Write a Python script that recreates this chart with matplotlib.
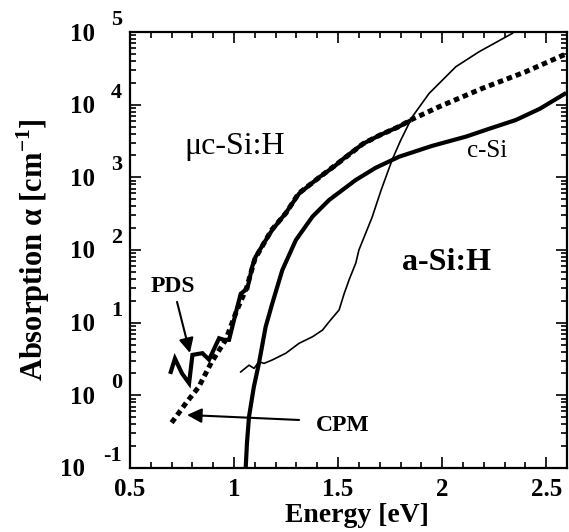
import numpy as np
import matplotlib
matplotlib.use("Agg")
import matplotlib.pyplot as plt
from matplotlib.transforms import offset_copy, blended_transform_factory
from matplotlib.ticker import MultipleLocator, NullFormatter

plt.rcParams['font.family'] = ['Liberation Serif', 'DejaVu Serif']
plt.rcParams['mathtext.fontset'] = 'custom'
plt.rcParams['mathtext.rm'] = 'Liberation Serif:bold'
plt.rcParams['mathtext.bf'] = 'Liberation Serif:bold'

# c-Si (thick solid)
csi_E = [1.056, 1.062, 1.072, 1.095, 1.12, 1.152, 1.184, 1.232, 1.297, 1.377, 1.457,
         1.585, 1.68, 1.793, 1.95, 2.114, 2.23, 2.354, 2.47, 2.596]
csi_a = [0.1, 0.22, 0.51, 1.3, 2.8, 8.8, 18.5, 53, 137, 288, 488,
         920, 1350, 1920, 2700, 3630, 4700, 6150, 8800, 14500]

# a-Si:H (thin solid)
asi_E = [1.032, 1.072, 1.096, 1.12, 1.144, 1.184, 1.249, 1.3125, 1.377, 1.425, 1.457,
         1.505, 1.529, 1.553, 1.585, 1.60, 1.663, 1.707, 1.76, 1.80, 1.857, 1.9375,
         2.066, 2.178, 2.338]
asi_a = [2.1, 2.6, 2.35, 2.9, 2.75, 3.07, 3.8, 5.2, 6.4, 7.9, 10.3,
         15, 25, 39, 66, 100, 280, 670, 1750, 3200, 6840, 14300,
         33300, 53600, 96000]

# uc-Si:H, PDS (thick wiggly)
pds_E = [0.696, 0.716, 0.75, 0.784, 0.80, 0.848, 0.88, 0.928, 0.952, 0.976, 1.008,
         1.032, 1.064, 1.088, 1.104, 1.14, 1.183, 1.249, 1.313, 1.409, 1.48, 1.537,
         1.62, 1.70, 1.793, 1.84]
pds_a = [2.1, 3.2, 2.0, 1.47, 3.6, 3.8, 3.1, 6.1, 5.8, 5.8, 13.5,
         25, 29.5, 60, 81, 120, 188, 324, 600, 1000, 1400, 1920,
         2900, 3800, 5000, 5900]

# uc-Si:H, CPM (dotted)
cpm_E = [0.70, 0.77, 0.83, 0.89, 0.96, 1.01, 1.06, 1.10, 1.18, 1.25, 1.31, 1.41,
         1.54, 1.62, 1.70, 1.793, 1.856, 1.986, 2.194, 2.402, 2.596]
cpm_a = [0.42, 0.79, 1.3, 2.8, 5.8, 14, 30, 75, 188, 324, 600, 1000,
         1920, 2900, 3800, 5000, 6300, 9380, 16800, 28400, 50000]

decades = [-1, 0, 1, 2, 3, 4, 5]
x_ticks = [0.5, 1.0, 1.5, 2.0, 2.5]
x_labels = ['0.5', '1', '1.5', '2', '2.5']

fig = plt.figure(figsize=(5.69, 5.32), dpi=100)
ax = fig.add_axes([130 / 569, 1 - 468 / 532, 437 / 569, 436 / 532])

ax.plot(csi_E, csi_a, color='black', lw=3.0, solid_capstyle='butt')
ax.plot(asi_E, asi_a, color='black', lw=1.2)
ax.plot(pds_E, pds_a, color='black', lw=3.0, solid_joinstyle='miter')
ax.plot(cpm_E, cpm_a, color='black', lw=3.6, dashes=(1.1, 0.8))

ax.set_yscale('log')
ax.set_xlim(0.5, 2.6)
ax.set_ylim(1e-1, 1e5)

ax.xaxis.set_minor_locator(MultipleLocator(0.1))
ax.set_xticks(x_ticks)
ax.set_xticklabels(x_labels, fontsize=18, fontweight='bold')
ax.set_yticks([10.0 ** d for d in decades])
ax.set_yticks([m * 10.0 ** d for d in decades[:-1] for m in range(2, 10)], minor=True)
ax.yaxis.set_major_formatter(NullFormatter())
ax.yaxis.set_minor_formatter(NullFormatter())

ax.tick_params(which='both', direction='in', top=True, right=True, width=1.2)
ax.tick_params(which='major', length=8)
ax.tick_params(which='minor', length=4)
ax.tick_params(axis='x', which='major', pad=7)
for s in ax.spines.values():
    s.set_linewidth(1.6)

# y tick labels: "10" with a raised exponent
bt = blended_transform_factory(ax.transAxes, ax.transData)
for d in decades:
    tr_exp = offset_copy(bt, fig=fig, x=-8, y=12, units='dots')
    ax.text(0, 10.0 ** d, str(d), transform=tr_exp, ha='right', va='center',
            fontsize=16, fontweight='bold', clip_on=False)
    shift = -35 if d >= 0 else -45
    tr_ten = offset_copy(bt, fig=fig, x=shift, y=-2, units='dots')
    ax.text(0, 10.0 ** d, '10', transform=tr_ten, ha='right', va='center',
            fontsize=18, fontweight='bold', clip_on=False)

fig.text(357 / 569, 1 - 516 / 532, 'Energy [eV]', ha='center', va='center',
         fontsize=20, fontweight='bold')
fig.text(33 / 569, 1 - 250 / 532, r'Absorption α [cm$^{-1}$]', rotation=90,
         ha='center', va='center', fontsize=22, fontweight='bold')

ax.text(0.76, 2620, 'μc-Si:H', fontsize=23, ha='left', va='center')
ax.text(1.808, 68, 'a-Si:H', fontsize=23, fontweight='bold', ha='left', va='center')
ax.text(2.12, 2300, 'c-Si', fontsize=18, ha='left', va='center')
ax.text(0.60, 31, 'PDS', fontsize=17, fontweight='bold', ha='left', va='center')
ax.text(1.394, 0.38, 'CPM', fontsize=17, fontweight='bold', ha='left', va='center')

arrow = dict(arrowstyle='-|>', color='black', lw=1.5, mutation_scale=22,
             shrinkA=0, shrinkB=0)
ax.annotate('', xy=(0.788, 3.83), xytext=(0.726, 19.3), arrowprops=arrow)
ax.annotate('', xy=(0.774, 0.537), xytext=(1.3125, 0.458), arrowprops=arrow)

fig.savefig('out.png', dpi=100)
